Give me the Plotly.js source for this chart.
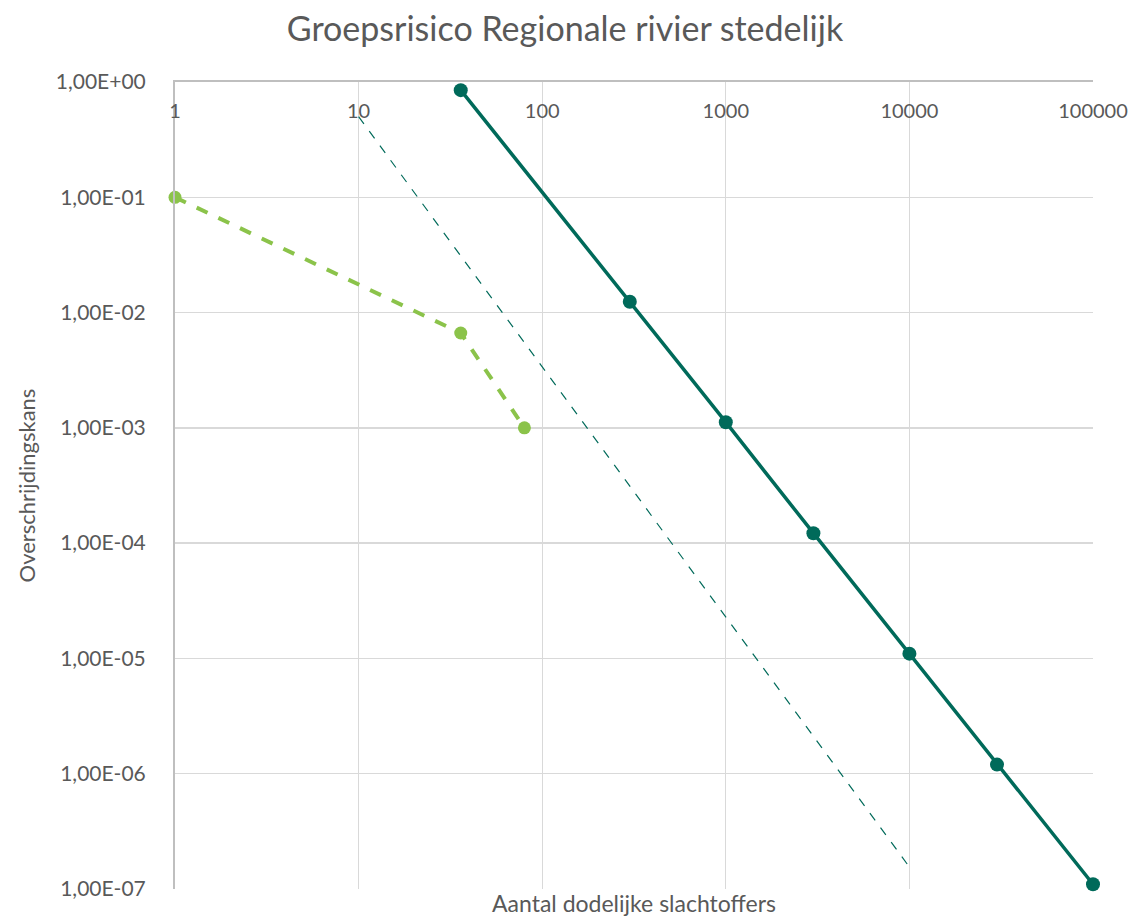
<!DOCTYPE html>
<html>
<head>
<meta charset="utf-8">
<script src="https://cdn.plot.ly/plotly-3.0.1.min.js"></script>
<style>html,body{margin:0;padding:0;background:#fff}#chart{width:1130px;height:923px}</style>
</head>
<body>
<div id="chart"></div>
<script>
// Norm line (solid, dark)
const normX = [36, 300, 1000, 3000, 10000, 30000, 100000];
const normY = [0.85, 0.0124, 0.00112, 0.000122, 0.000011, 0.0000012, 0.00000011];
// Thin dashed reference line
const refX = [10, 10000];
const refY = [0.5, 0.000000155];
// Regional river urban group risk (light green dashed)
const grX = [1, 36, 80];
const grY = [0.1, 0.00665, 0.001];
// Axis ticks
const xTickVals = [1, 10, 100, 1000, 10000, 100000];
const xTickText = ["1", "10", "100", "1000", "10000", "100000"];
const yTickVals = [1, 0.1, 0.01, 0.001, 0.0001, 0.00001, 0.000001, 0.0000001];
const yTickText = ["1,00E+00", "1,00E-01", "1,00E-02", "1,00E-03", "1,00E-04", "1,00E-05", "1,00E-06", "1,00E-07"];

const FONT = "Lato, 'Open Sans', sans-serif";
const GREY = "#595959";

const traces = [
  {x: refX, y: refY, mode: "lines", type: "scatter", cliponaxis: false,
   line: {color: "#006a5a", width: 1.2, dash: "dash"}},
  {x: normX, y: normY, mode: "lines+markers", type: "scatter", cliponaxis: false,
   line: {color: "#006a5a", width: 3.5}, marker: {color: "#006a5a", size: 14}},
  {x: grX, y: grY, mode: "lines+markers", type: "scatter", cliponaxis: false,
   line: {color: "#8bc34a", width: 4, dash: "dash"}, marker: {color: "#8bc34a", size: 13}}
];

const layout = {
  width: 1130, height: 923,
  margin: {l: 175, r: 37, t: 82, b: 34},
  paper_bgcolor: "#fff", plot_bgcolor: "#fff",
  showlegend: false,
  font: {family: FONT, color: GREY},
  title: {text: "Groepsrisico Regionale rivier stedelijk", font: {family: FONT, size: 34, color: GREY},
          x: 0.5, xanchor: "center", y: 0.968, yanchor: "middle"},
  xaxis: {type: "log", range: [0, 5], side: "top",
          tickvals: xTickVals, ticktext: xTickText, ticks: "", ticklabelstandoff: -46,
          tickfont: {family: FONT, size: 20, color: GREY},
          showgrid: true, gridcolor: "#d9d9d9", gridwidth: 1.3,
          showline: true, linecolor: "#bfbfbf", linewidth: 2, zeroline: false, mirror: false},
  yaxis: {type: "log", range: [-7, 0],
          tickvals: yTickVals, ticktext: yTickText, ticks: "", ticklabelstandoff: 23,
          tickfont: {family: FONT, size: 21, color: GREY},
          showgrid: true, gridcolor: "#d9d9d9", gridwidth: 1.3,
          showline: true, linecolor: "#bfbfbf", linewidth: 2, zeroline: false,
          title: {text: "Overschrijdingskans", font: {family: FONT, size: 22, color: GREY}, standoff: 14}},
  annotations: [
    {text: "Aantal dodelijke slachtoffers", xref: "paper", yref: "paper", x: 0.5, y: 0,
     xanchor: "center", yanchor: "top", yshift: 1, showarrow: false, borderpad: 0,
     font: {family: FONT, size: 23, color: GREY}}
  ]
};

Plotly.newPlot("chart", traces, layout, {displayModeBar: false, staticPlot: true});
</script>
</body>
</html>
